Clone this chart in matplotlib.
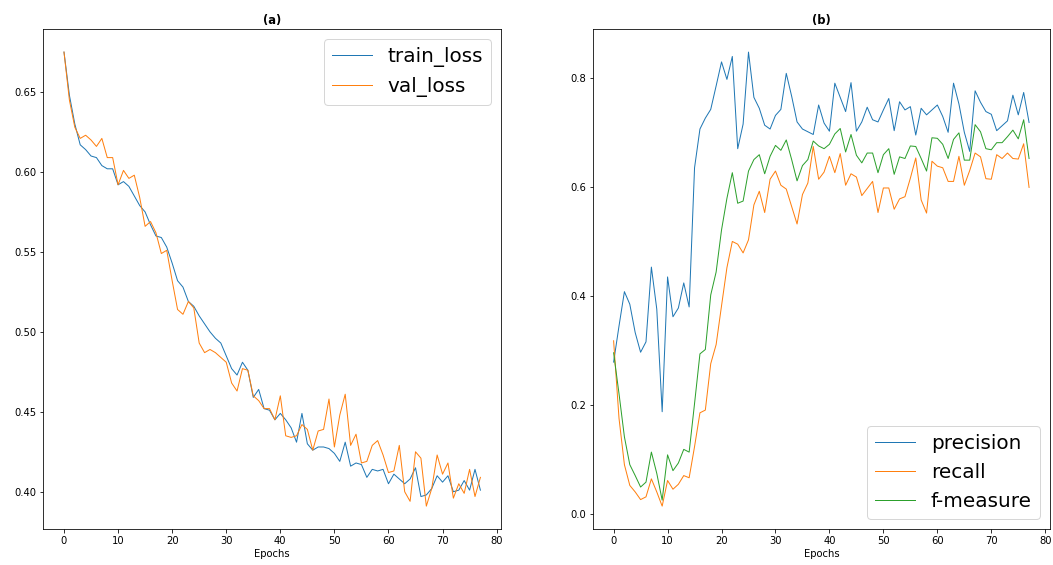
import matplotlib
matplotlib.use('Agg')
import matplotlib.pyplot as plt

epochs = list(range(78))

train_loss = [0.675, 0.648, 0.630, 0.617, 0.614, 0.610, 0.609, 0.604, 0.602, 0.602,
              0.592, 0.594, 0.591, 0.585, 0.579, 0.575, 0.567, 0.560, 0.559, 0.553,
              0.543, 0.532, 0.528, 0.519, 0.516, 0.510, 0.505, 0.500, 0.496, 0.493,
              0.485, 0.477, 0.473, 0.481, 0.476, 0.459, 0.464, 0.452, 0.451, 0.445,
              0.449, 0.445, 0.440, 0.431, 0.449, 0.430, 0.426, 0.428, 0.428, 0.427,
              0.424, 0.419, 0.431, 0.416, 0.418, 0.417, 0.409, 0.414, 0.413, 0.414,
              0.405, 0.411, 0.408, 0.405, 0.408, 0.415, 0.397, 0.398, 0.402, 0.410,
              0.406, 0.410, 0.400, 0.401, 0.407, 0.401, 0.414, 0.401]

val_loss = [0.675, 0.645, 0.628, 0.621, 0.623, 0.620, 0.616, 0.621, 0.609, 0.609,
            0.592, 0.601, 0.596, 0.598, 0.584, 0.566, 0.569, 0.562, 0.549, 0.551,
            0.532, 0.514, 0.511, 0.519, 0.515, 0.493, 0.487, 0.489, 0.487, 0.484,
            0.481, 0.468, 0.463, 0.477, 0.476, 0.460, 0.457, 0.452, 0.452, 0.445,
            0.460, 0.435, 0.434, 0.435, 0.442, 0.439, 0.426, 0.438, 0.439, 0.458,
            0.428, 0.448, 0.461, 0.429, 0.436, 0.418, 0.419, 0.429, 0.432, 0.423,
            0.412, 0.413, 0.429, 0.400, 0.394, 0.425, 0.421, 0.391, 0.402, 0.423,
            0.411, 0.418, 0.396, 0.405, 0.399, 0.414, 0.397, 0.409]

precision = [0.279, 0.345, 0.408, 0.385, 0.333, 0.297, 0.316, 0.453, 0.376, 0.188,
             0.435, 0.362, 0.378, 0.424, 0.380, 0.635, 0.706, 0.726, 0.742, 0.785,
             0.829, 0.797, 0.839, 0.670, 0.715, 0.847, 0.764, 0.744, 0.713, 0.706,
             0.731, 0.742, 0.808, 0.766, 0.719, 0.706, 0.701, 0.696, 0.750, 0.717,
             0.702, 0.790, 0.764, 0.738, 0.791, 0.702, 0.719, 0.746, 0.723, 0.719,
             0.741, 0.762, 0.703, 0.756, 0.741, 0.747, 0.695, 0.744, 0.732, 0.741,
             0.750, 0.729, 0.700, 0.790, 0.752, 0.700, 0.665, 0.776, 0.755, 0.738,
             0.733, 0.703, 0.712, 0.721, 0.768, 0.732, 0.773, 0.718]

recall = [0.318, 0.176, 0.091, 0.053, 0.041, 0.027, 0.032, 0.065, 0.041, 0.015,
          0.062, 0.046, 0.055, 0.071, 0.067, 0.124, 0.186, 0.191, 0.276, 0.311,
          0.382, 0.452, 0.500, 0.495, 0.479, 0.503, 0.567, 0.592, 0.553, 0.614,
          0.629, 0.603, 0.596, 0.564, 0.532, 0.586, 0.607, 0.674, 0.614, 0.627,
          0.656, 0.626, 0.661, 0.603, 0.624, 0.618, 0.584, 0.597, 0.610, 0.553,
          0.598, 0.598, 0.559, 0.578, 0.582, 0.616, 0.653, 0.576, 0.552, 0.647,
          0.638, 0.635, 0.610, 0.610, 0.656, 0.603, 0.630, 0.662, 0.655, 0.615,
          0.614, 0.659, 0.652, 0.662, 0.652, 0.651, 0.679, 0.599]

f_measure = [0.296, 0.221, 0.142, 0.091, 0.071, 0.050, 0.059, 0.114, 0.075, 0.026,
             0.109, 0.080, 0.094, 0.119, 0.114, 0.203, 0.294, 0.302, 0.402, 0.444,
             0.521, 0.579, 0.626, 0.570, 0.574, 0.629, 0.650, 0.659, 0.624, 0.656,
             0.676, 0.667, 0.686, 0.650, 0.611, 0.639, 0.650, 0.684, 0.675, 0.670,
             0.678, 0.697, 0.707, 0.664, 0.696, 0.658, 0.644, 0.662, 0.662, 0.626,
             0.659, 0.670, 0.623, 0.655, 0.652, 0.675, 0.674, 0.652, 0.629, 0.690,
             0.689, 0.678, 0.652, 0.687, 0.699, 0.649, 0.649, 0.714, 0.701, 0.670,
             0.668, 0.681, 0.681, 0.692, 0.704, 0.688, 0.723, 0.652]

fig = plt.figure(figsize=(1053 / 72, 565 / 72), dpi=72)
ax1 = fig.add_axes([0.041, 0.064, 0.435, 0.884])
ax2 = fig.add_axes([0.563, 0.064, 0.434, 0.884])

# (a) losses
ax1.plot(epochs, train_loss, lw=1.0, label='train_loss')
ax1.plot(epochs, val_loss, lw=1.0, label='val_loss')
ax1.set_title('(a)', fontweight='bold', fontsize=11.5, pad=5)
ax1.set_xlabel('Epochs', labelpad=3)
ax1.legend(loc='upper right', fontsize=20)

# (b) metrics
ax2.plot(epochs, precision, lw=1.0, label='precision')
ax2.plot(epochs, recall, lw=1.0, label='recall')
ax2.plot(epochs, f_measure, lw=1.0, label='f-measure')
ax2.set_title('(b)', fontweight='bold', fontsize=11.5, pad=5)
ax2.set_xlabel('Epochs', labelpad=3)
ax2.legend(loc='lower right', fontsize=20)

fig.savefig('out.png', dpi=72)
